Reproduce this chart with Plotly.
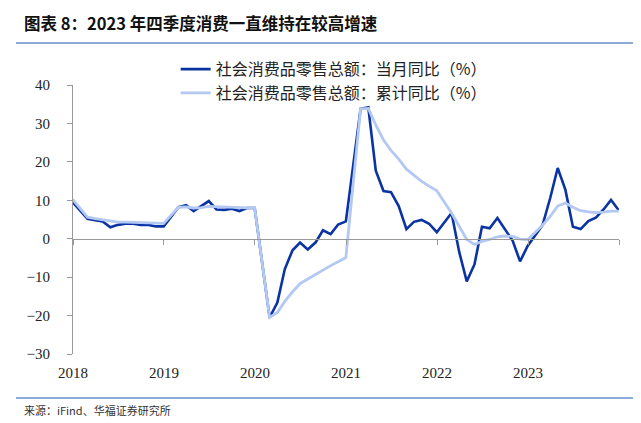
import pandas as pd
import plotly.graph_objects as go

# ---- data ----
months = ["2017-12"] + [f"{y}-{m:02d}" for y in range(2018, 2024) for m in range(2, 13)]
monthly_yoy = [
    9.5,
    5.2, 4.8, 4.5, 3.0, 3.6, 3.9, 3.9, 3.6, 3.6, 3.2, 3.2,
    8.2, 8.7, 7.2, 8.6, 9.8, 7.6, 7.5, 7.8, 7.2, 8.0, 8.0,
    -20.5, -16.6, -7.9, -3.0, -1.0, -2.8, -1.0, 2.2, 1.2, 3.7, 4.5,
    33.8, 34.2, 17.7, 12.4, 12.1, 8.5, 2.5, 4.4, 4.9, 3.9, 1.7,
    6.7, -3.5, -11.1, -6.7, 3.1, 2.7, 5.4, 2.5, -0.5, -5.9, -1.8,
    3.5, 10.6, 18.4, 12.7, 3.1, 2.5, 4.6, 5.5, 7.6, 10.1, 7.4,
]
cumulative_yoy = [
    10.2,
    5.6, 5.2, 4.9, 4.5, 4.3, 4.3, 4.2, 4.2, 4.1, 4.1, 4.0,
    8.2, 8.3, 8.0, 8.1, 8.4, 8.3, 8.2, 8.2, 8.1, 8.0, 8.0,
    -20.5, -19.2, -16.3, -13.8, -11.7, -10.5, -9.3, -8.1, -7.0, -6.0, -4.9,
    33.8, 33.9, 29.6, 25.7, 23.0, 20.7, 18.1, 16.4, 14.9, 13.7, 12.5,
    6.7, 3.3, -0.2, -1.5, -0.7, -0.2, 0.5, 0.7, 0.6, -0.1, -0.2,
    3.5, 5.8, 8.5, 9.3, 8.2, 7.3, 7.0, 6.8, 6.9, 7.2, 7.2,
]
series_names = ["社会消费品零售总额：当月同比（%）", "社会消费品零售总额：累计同比（%）"]
year_ticks = ["2018-01-01", "2019-01-01", "2020-01-01", "2021-01-01", "2022-01-01", "2023-01-01", "2024-01-01"]
year_labels = ["2018", "2019", "2020", "2021", "2022", "2023", ""]
y_ticks = [40, 30, 20, 10, 0, -10, -20, -30]

title_text = "图表 8：2023 年四季度消费一直维持在较高增速"
source_text = "来源：iFind、华福证券研究所"

dates = pd.PeriodIndex(months, freq="M").to_timestamp(how="end").strftime("%Y-%m-%d").tolist()

DARK = "#0a33a3"
LIGHT = "#b3c8f2"
CJK = "Noto Sans CJK SC"
SERIF = "Liberation Serif"
XR = ["2018-01-01", "2024-01-01"]

fig = go.Figure()
fig.add_trace(go.Scatter(x=dates, y=monthly_yoy, mode="lines", name=series_names[0],
                         line=dict(color=DARK, width=2.6), legendgroup="a"))
fig.add_trace(go.Scatter(x=dates, y=cumulative_yoy, mode="lines", name=series_names[1],
                         line=dict(color=LIGHT, width=2.8), legendgroup="b"))
# invisible trace to drive the zero-line axis
fig.add_trace(go.Scatter(x=[XR[0], XR[1]], y=[0, 0], mode="lines", xaxis="x2",
                         line=dict(color="rgba(0,0,0,0)", width=0), showlegend=False, hoverinfo="skip"))

# page body has an 8px default margin, so the figure is 8px smaller and offset
fig.update_layout(
    width=633, height=415,
    margin=dict(l=65, r=22, t=77, b=69, autoexpand=False),
    paper_bgcolor="white", plot_bgcolor="white",
    showlegend=True,
    legend=dict(x=0.188, y=1.122, xanchor="left", yanchor="top",
                font=dict(family=CJK, size=16, color="#222"),
                bgcolor="rgba(0,0,0,0)", traceorder="grouped", tracegroupgap=0,
                itemwidth=30),
    xaxis=dict(type="date", range=XR, tickvals=year_ticks, ticktext=year_labels,
               showgrid=False, showline=False, zeroline=False, ticks="",
               ticklabelstandoff=8,
               tickfont=dict(family=SERIF, size=15, color="#222")),
    xaxis2=dict(type="date", range=XR, overlaying="x", anchor="free", position=30 / 70,
                side="bottom", tickvals=year_ticks, showticklabels=False,
                showline=True, linecolor="#999", linewidth=1.2,
                ticks="outside", ticklen=5, tickcolor="#999", tickwidth=1.2,
                showgrid=False, zeroline=False),
    yaxis=dict(range=[-30, 40], tickvals=y_ticks, showgrid=False, zeroline=False,
               showline=True, linecolor="#999", linewidth=1.2,
               ticks="outside", ticklen=5, tickcolor="#999", tickwidth=1.2,
               ticklabelstandoff=14,
               tickfont=dict(family=SERIF, size=15, color="#222")),
)

fig.add_annotation(text=f"<b>{title_text}</b>", xref="paper", yref="paper",
                   x=-0.093, y=(354 - 23) / 269, xanchor="left", yanchor="middle",
                   showarrow=False, font=dict(family=CJK, size=16.5, color="#111"))
fig.add_annotation(text=source_text, xref="paper", yref="paper",
                   x=-0.093, y=(354 - 410) / 269, xanchor="left", yanchor="middle",
                   showarrow=False, font=dict(family=CJK, size=11, color="#333"))
for yy in [43, 398]:
    fig.add_shape(type="line", xref="paper", yref="paper",
                  x0=(16 - 73) / 546, x1=(635 - 73) / 546,
                  y0=(354 - yy) / 269, y1=(354 - yy) / 269,
                  line=dict(color="#8eaad6", width=2))

fig.write_html("out.html")
